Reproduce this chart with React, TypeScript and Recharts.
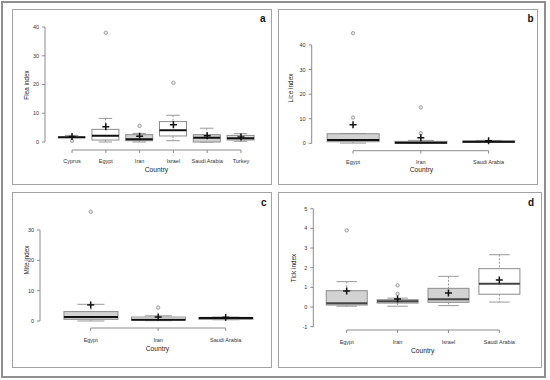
import React from 'react';
import { ComposedChart, Bar, Scatter, XAxis, YAxis, ReferenceLine } from 'recharts';

// a: flea index
const fleaCountries = ['Cyprus', 'Egypt', 'Iran', 'Israel', 'Saudi Arabia', 'Turkey'];
const fleaLow = [1.6, 0, 0, 0.45, 0, 0.25];
const fleaQ1 = [1.6, 0.7, 0.45, 2.1, 0, 0.7];
const fleaMedian = [1.65, 2.2, 0.93, 4.1, 1.5, 1.3];
const fleaQ3 = [1.7, 4.4, 2.55, 7.1, 2.55, 2.3];
const fleaHigh = [2.3, 8.2, 3.0, 9.3, 4.8, 2.9];
const fleaMean = [1.9, 5.3, 2.0, 6.0, 2.2, 1.75];
const fleaOutlierCountry = ['Cyprus', 'Egypt', 'Iran', 'Israel'];
const fleaOutlierValue = [0.4, 38, 5.6, 20.6];
const fleaTicks = [0, 10, 20, 30, 40];

// b: lice index
const liceCountries = ['Egypt', 'Iran', 'Saudi Arabia'];
const liceLow = [0.1, 0, 0.35];
const liceQ1 = [0.65, 0.05, 0.4];
const liceMedian = [1.35, 0.25, 0.65];
const liceQ3 = [3.9, 0.8, 0.95];
const liceHigh = [4.0, 1.2, 1.2];
const liceMean = [7.6, 2.3, 1.05];
const liceOutlierCountry = ['Egypt', 'Egypt', 'Iran', 'Iran'];
const liceOutlierValue = [10.5, 44.8, 4.1, 14.6];
const liceTicks = [0, 10, 20, 30, 40];

// c: mite index
const miteCountries = ['Egypt', 'Iran', 'Saudi Arabia'];
const miteLow = [0, 0.1, 0.4];
const miteQ1 = [0.55, 0.3, 0.55];
const miteMedian = [1.3, 0.45, 1.0];
const miteQ3 = [3.1, 1.3, 1.2];
const miteHigh = [5.5, 1.7, 1.3];
const miteMean = [5.3, 1.3, 1.2];
const miteOutlierCountry = ['Egypt', 'Iran'];
const miteOutlierValue = [36, 4.4];
const miteTicks = [0, 10, 20, 30];

// d: tick index
const tickCountries = ['Egypt', 'Iran', 'Israel', 'Saudi Arabia'];
const tickLow = [0.04, 0.04, 0.07, 0.25];
const tickQ1 = [0.1, 0.2, 0.24, 0.65];
const tickMedian = [0.19, 0.29, 0.39, 1.18];
const tickQ3 = [0.83, 0.37, 0.95, 1.95];
const tickHigh = [1.29, 0.45, 1.56, 2.66];
const tickMean = [0.82, 0.41, 0.71, 1.37];
const tickOutlierCountry = ['Egypt', 'Iran', 'Iran'];
const tickOutlierValue = [3.9, 0.67, 1.1];
const tickTicks = [-1, 0, 1, 2, 3, 4, 5];

const FONT = '"Liberation Sans", Arial, Helvetica, sans-serif';
const AXIS = '#8c8c8c';
const GREY = '#d2d2d2';
const WHITE = '#ffffff';

const BoxShape = (props: any) => {
  const { x, y, width, height, payload, fill, medianColor } = props;
  const top = Math.min(y, y + height);
  const bottom = Math.max(y, y + height);
  const span = payload.high - payload.low;
  const py = (v: number) => (span > 0 ? bottom - ((v - payload.low) / span) * (bottom - top) : top);
  const cx = x + width / 2;
  const cap = width / 4;
  return (
    <g>
      <line x1={cx} x2={cx} y1={py(payload.high)} y2={py(payload.q3)} stroke="#999" strokeDasharray="2 1.5" />
      <line x1={cx} x2={cx} y1={py(payload.q1)} y2={py(payload.low)} stroke="#999" strokeDasharray="2 1.5" />
      <line x1={cx - cap} x2={cx + cap} y1={py(payload.high)} y2={py(payload.high)} stroke="#999" />
      <line x1={cx - cap} x2={cx + cap} y1={py(payload.low)} y2={py(payload.low)} stroke="#999" />
      <rect x={x} y={py(payload.q3)} width={width} height={Math.max(py(payload.q1) - py(payload.q3), 0.5)} fill={fill} stroke={AXIS} strokeWidth={1} />
      <line x1={x} x2={x + width} y1={py(payload.median)} y2={py(payload.median)} stroke={medianColor} strokeWidth={2} />
    </g>
  );
};

const PlusMark = (props: any) => {
  const { cx, cy } = props;
  if (cx == null || cy == null) return null;
  return (
    <g>
      <line x1={cx - 3.5} x2={cx + 3.5} y1={cy} y2={cy} stroke="#111" strokeWidth={1.5} />
      <line x1={cx} x2={cx} y1={cy - 3.5} y2={cy + 3.5} stroke="#111" strokeWidth={1.5} />
    </g>
  );
};

const OutlierMark = (props: any) => {
  const { cx, cy } = props;
  if (cx == null || cy == null) return null;
  return <circle cx={cx} cy={cy} r={1.7} fill="#e4e4e4" stroke="#9a9a9a" strokeWidth={0.9} />;
};

const Panel = (p: any) => {
  const rows = p.countries.map((c: string, i: number) => ({
    pos: i + 1,
    country: c,
    range: [p.low[i], p.high[i]],
    low: p.low[i],
    q1: p.q1[i],
    median: p.median[i],
    q3: p.q3[i],
    high: p.high[i],
    mean: p.mean[i],
    fill: p.fills[i],
  }));
  const outliers = p.outlierCountry.map((c: string, i: number) => ({
    pos: p.countries.indexOf(c) + 1,
    value: p.outlierValue[i],
  }));
  const n = p.countries.length;
  const lastTick = p.yTicks[p.yTicks.length - 1];

  const xTitle = () => (
    <text x={p.titleX} y={p.titleY} dy="0.35em" textAnchor="middle" fontSize={6.7} fill="#222" fontFamily={FONT}>
      Country
    </text>
  );
  const yTitle = () => (
    <text
      x={p.yTitleX} y={p.yTitleY} dy="0.35em"
      transform={`rotate(-90, ${p.yTitleX}, ${p.yTitleY})`}
      textAnchor="middle" fontSize={6.4} fill="#222" fontFamily={FONT}
    >
      {p.yTitle}
    </text>
  );

  return (
    <>
      <div
        style={{
          position: 'absolute', left: p.left, top: p.top, width: p.width, height: p.height,
          border: '1.5px solid #a3a3a3', boxSizing: 'border-box',
        }}
      />
      <div style={{ position: 'absolute', left: p.left, top: p.top }}>
        <ComposedChart width={p.width} height={p.height} data={rows} margin={{ top: p.marginTop, right: 4, bottom: 0, left: 0 }}>
          <XAxis
            type="number"
            dataKey="pos"
            domain={p.xDomain}
            allowDataOverflow
            ticks={rows.map((r: any) => r.pos)}
            interval={0}
            tickFormatter={(v: number) => p.countries[v - 1]}
            axisLine={false}
            tickLine={{ stroke: AXIS }}
            tickSize={3}
            tickMargin={p.labelGap}
            height={p.axisHeight}
            tick={{ fontSize: 5.5, fill: '#333', fontFamily: FONT }}
            label={{ content: xTitle }}
          />
          <YAxis
            type="number"
            domain={p.yDomain}
            allowDataOverflow
            ticks={p.yTicks}
            interval={0}
            width={p.axisWidth}
            axisLine={false}
            tickLine={{ stroke: AXIS }}
            tickSize={3}
            tickMargin={3}
            tick={{ fontSize: 5.5, fill: '#333', fontFamily: FONT }}
            label={{ content: yTitle }}
          />
          <ReferenceLine segment={[{ x: 1, y: p.yDomain[0] }, { x: n, y: p.yDomain[0] }]} stroke={AXIS} ifOverflow="visible" />
          <ReferenceLine segment={[{ x: p.xDomain[0], y: p.yTicks[0] }, { x: p.xDomain[0], y: lastTick }]} stroke={AXIS} ifOverflow="visible" />
          <Bar
            dataKey="range"
            barSize={p.barSize}
            isAnimationActive={false}
            shape={(s: any) => <BoxShape {...s} fill={s.payload.fill} medianColor={p.medianColor} />}
          />
          <Scatter data={outliers} dataKey="value" isAnimationActive={false} shape={(s: any) => <OutlierMark {...s} />} />
          <Scatter dataKey="mean" isAnimationActive={false} shape={(s: any) => <PlusMark {...s} />} />
        </ComposedChart>
      </div>
      <div
        style={{
          position: 'absolute', left: p.left + p.letterX - 3, top: p.top + p.letterY - 7,
          fontFamily: FONT, fontWeight: 'bold', fontSize: 10, lineHeight: '10px', color: '#111',
        }}
      >
        {p.letter}
      </div>
    </>
  );
};

export default function App() {
  return (
    <div style={{ position: 'absolute', left: 0, top: 0, width: 550, height: 380, background: '#fff' }}>
      <div
        style={{
          position: 'absolute', left: 1, top: 1, width: 545, height: 377,
          border: '2px solid #8f8f8f', boxSizing: 'border-box',
        }}
      />
      <Panel
        letter="a" yTitle="Flea index"
        countries={fleaCountries} low={fleaLow} q1={fleaQ1} median={fleaMedian} q3={fleaQ3} high={fleaHigh} mean={fleaMean}
        outlierCountry={fleaOutlierCountry} outlierValue={fleaOutlierValue} yTicks={fleaTicks}
        fills={[GREY, WHITE, GREY, WHITE, GREY, '#dcdcdc']}
        left={12} top={9} width={260} height={176}
        marginTop={12.25} axisWidth={33} axisHeight={35}
        xDomain={[0.2, 6.8]} yDomain={[-2.78, 42]}
        barSize={27} labelGap={5.8}
        titleX={144.5} titleY={160.3} yTitleX={15} yTitleY={76} medianColor="#111"
        letterX={251} letterY={12}
      />
      <Panel
        letter="b" yTitle="Lice index"
        countries={liceCountries} low={liceLow} q1={liceQ1} median={liceMedian} q3={liceQ3} high={liceHigh} mean={liceMean}
        outlierCountry={liceOutlierCountry} outlierValue={liceOutlierValue} yTicks={liceTicks}
        fills={[GREY, '#e6e6e6', GREY]}
        left={278} top={9} width={260} height={176}
        marginTop={18.8} axisWidth={33.7} axisHeight={34.3}
        xDomain={[0.39, 3.67]} yDomain={[-3.0, 47]}
        barSize={52} labelGap={6.7}
        titleX={143.5} titleY={161} yTitleX={13} yTitleY={79} medianColor="#111"
        letterX={252.5} letterY={12}
      />
      <Panel
        letter="c" yTitle="Mite index"
        countries={miteCountries} low={miteLow} q1={miteQ1} median={miteMedian} q3={miteQ3} high={miteHigh} mean={miteMean}
        outlierCountry={miteOutlierCountry} outlierValue={miteOutlierValue} yTicks={miteTicks}
        fills={[GREY, WHITE, GREY]}
        left={12} top={192} width={260} height={176}
        marginTop={13.7} axisWidth={28} axisHeight={40}
        xDomain={[0.249, 3.627]} yDomain={[-2.31, 38]}
        barSize={54} labelGap={7.4}
        titleX={145.5} titleY={156.3} yTitleX={15} yTitleY={68} medianColor="#111"
        letterX={252} letterY={13}
      />
      <Panel
        letter="d" yTitle="Tick index"
        countries={tickCountries} low={tickLow} q1={tickQ1} median={tickMedian} q3={tickQ3} high={tickHigh} mean={tickMean}
        outlierCountry={tickOutlierCountry} outlierValue={tickOutlierValue} yTicks={tickTicks}
        fills={[GREY, GREY, GREY, WHITE]}
        left={278} top={192} width={264} height={176}
        marginTop={12.8} axisWidth={35.3} axisHeight={38}
        xDomain={[0.344, 4.76]} yDomain={[-1.17, 5.2]}
        barSize={41} labelGap={6.8}
        titleX={144.7} titleY={158.3} yTitleX={15.3} yTitleY={76} medianColor="#444"
        letterX={253} letterY={13}
      />
    </div>
  );
}
